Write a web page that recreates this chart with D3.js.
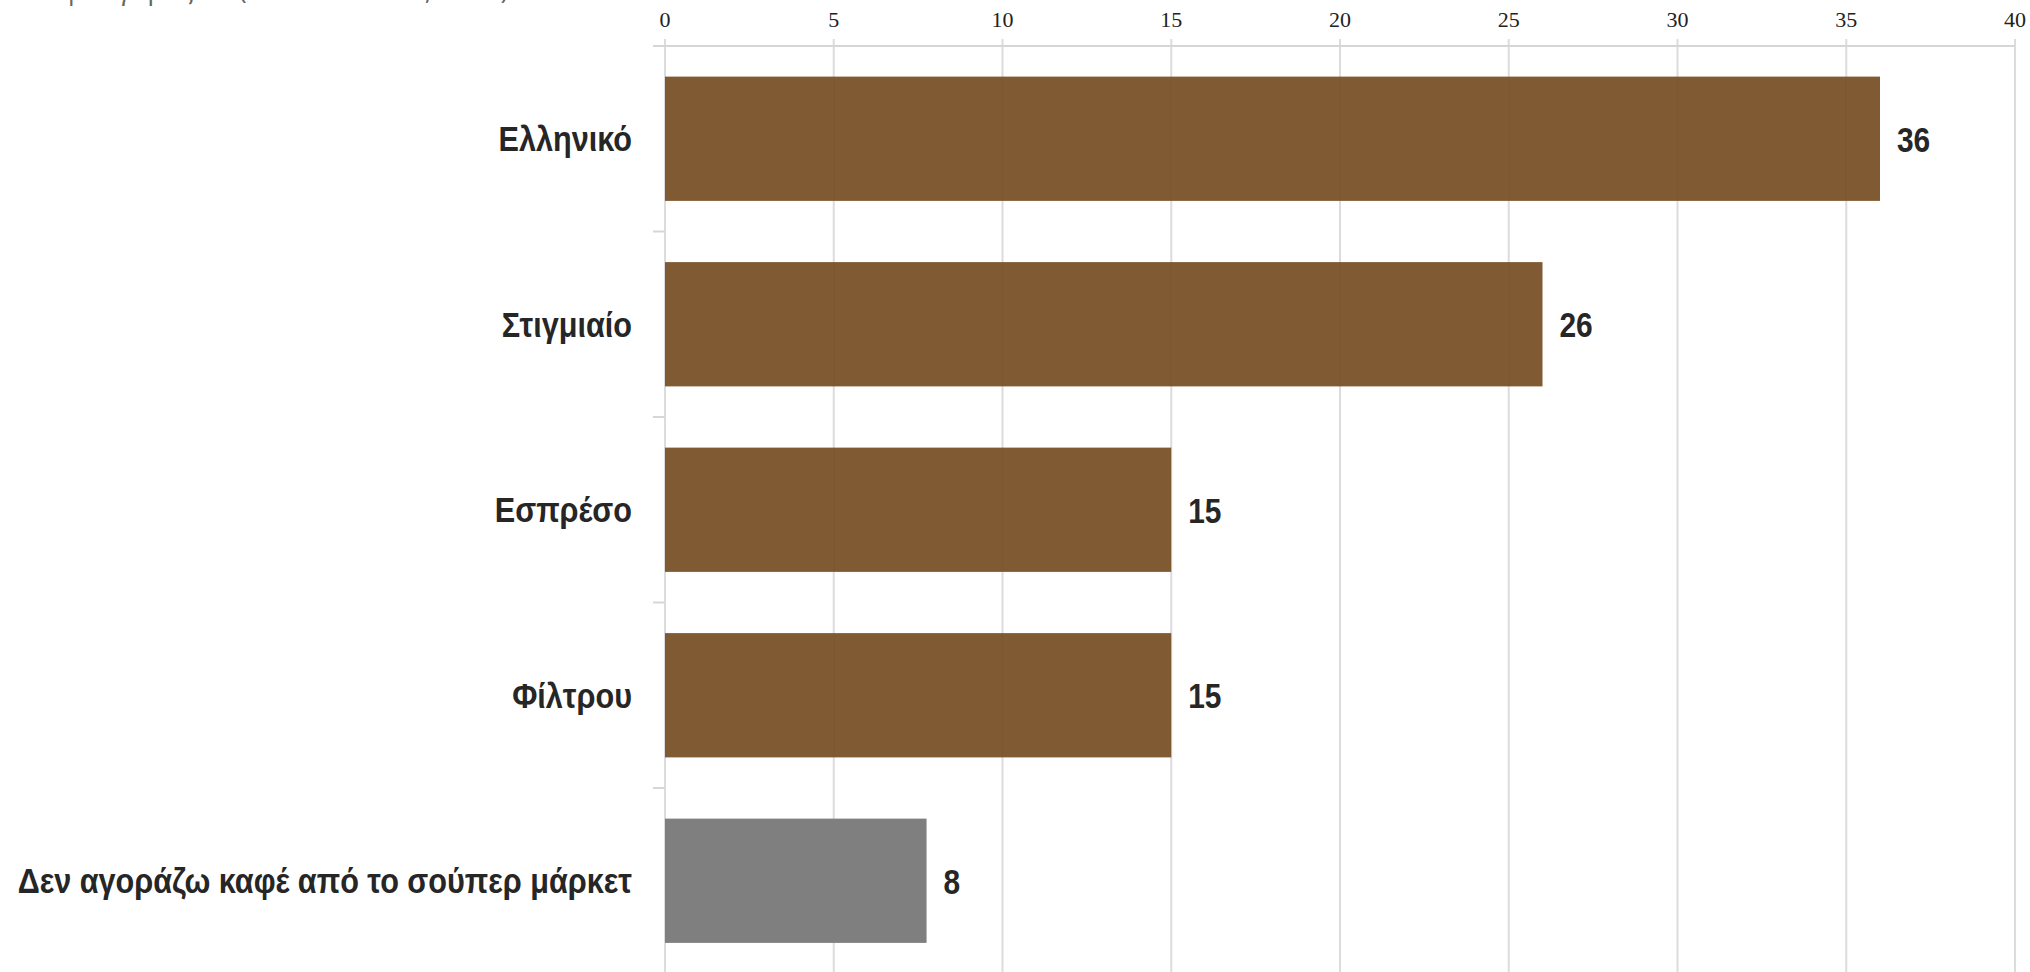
<!DOCTYPE html>
<html><head><meta charset="utf-8">
<script src="https://cdn.jsdelivr.net/npm/d3@7"></script>
<style>
html,body{margin:0;padding:0;background:#fff;overflow:hidden}
svg{display:block}
</style></head>
<body>
<svg id="chart" width="2030" height="972"></svg>
<script>
const titleText = "Τι καφέ αγοράζετε (σε ποσοστό %, 2021)";
const categories = ["Ελληνικό", "Στιγμιαίο", "Εσπρέσο", "Φίλτρου", "Δεν αγοράζω καφέ από το σούπερ μάρκετ"];
const values = [36, 26, 15, 15, 7.75];
const colors = ["brown", "brown", "brown", "brown", "grey"];
const xTicks = [0, 5, 10, 15, 20, 25, 30, 35, 40];

const W = 2030, H = 972;
const svg = d3.select("#chart");

const x = d3.scaleLinear().domain([0, 40]).range([665, 2015]);
const y = d3.scaleBand().domain(categories).range([46, 973.5]).paddingInner(0.33).paddingOuter(0.165);

// title (mostly off-canvas, as in reference)
svg.append("text").attr("x", 0).attr("y", -1)
  .attr("font-family", "'Open Sans', sans-serif").attr("font-size", 27)
  .attr("fill", "#666").text(titleText);

// gridlines
svg.append("g").selectAll("line").data(xTicks).join("line")
  .attr("x1", d => x(d)).attr("x2", d => x(d))
  .attr("y1", 39).attr("y2", H)
  .attr("stroke", "#dcdcdc").attr("stroke-width", 2);

// x axis line
svg.append("line").attr("x1", 653).attr("x2", x(40)).attr("y1", 46).attr("y2", 46)
  .attr("stroke", "#d6d6d6").attr("stroke-width", 2);

// y axis ticks at band edges
const edges = d3.range(categories.length + 1).map(i => y.range()[0] + i * y.step());
svg.append("g").selectAll("line").data(edges).join("line")
  .attr("x1", 653).attr("x2", x(0)).attr("y1", d => d).attr("y2", d => d)
  .attr("stroke", "#d6d6d6").attr("stroke-width", 2);

// tick labels
svg.append("g").selectAll("text").data(xTicks).join("text")
  .attr("x", d => x(d)).attr("y", 27).attr("text-anchor", "middle")
  .attr("font-family", "'Liberation Serif', 'DejaVu Serif', serif").attr("font-size", 22)
  .attr("fill", "#222").text(d => d);

const fillOf = c => c === "brown" ? "#754c21" : "#7f7f7f";
const opOf = c => c === "brown" ? 0.92 : 1;

// bars
svg.append("g").selectAll("rect").data(categories).join("rect")
  .attr("x", x(0)).attr("y", d => y(d))
  .attr("width", (d, i) => x(values[i]) - x(0))
  .attr("height", y.bandwidth())
  .attr("fill", (d, i) => fillOf(colors[i]))
  .attr("fill-opacity", (d, i) => opOf(colors[i]));

// category labels (condensed bold)
svg.append("g").selectAll("text").data(categories).join("text")
  .attr("transform", d => `translate(632,${y(d) + y.bandwidth() / 2}) scale(0.875,1)`)
  .attr("dy", "0.36em").attr("text-anchor", "end")
  .attr("font-family", "'Liberation Sans', Arial, sans-serif")
  .attr("font-weight", "bold").attr("font-size", 35).attr("fill", "#262626")
  .text(d => d);

// value labels
svg.append("g").selectAll("text").data(categories).join("text")
  .attr("transform", (d, i) => `translate(${x(values[i]) + 17},${y(d) + y.bandwidth() / 2}) scale(0.83,1)`)
  .attr("dy", "0.36em")
  .attr("font-family", "'Liberation Sans', Arial, sans-serif")
  .attr("font-weight", "bold").attr("font-size", 36).attr("fill", "#262626")
  .text((d, i) => d3.format(".0f")(values[i]));
</script>
</body></html>
